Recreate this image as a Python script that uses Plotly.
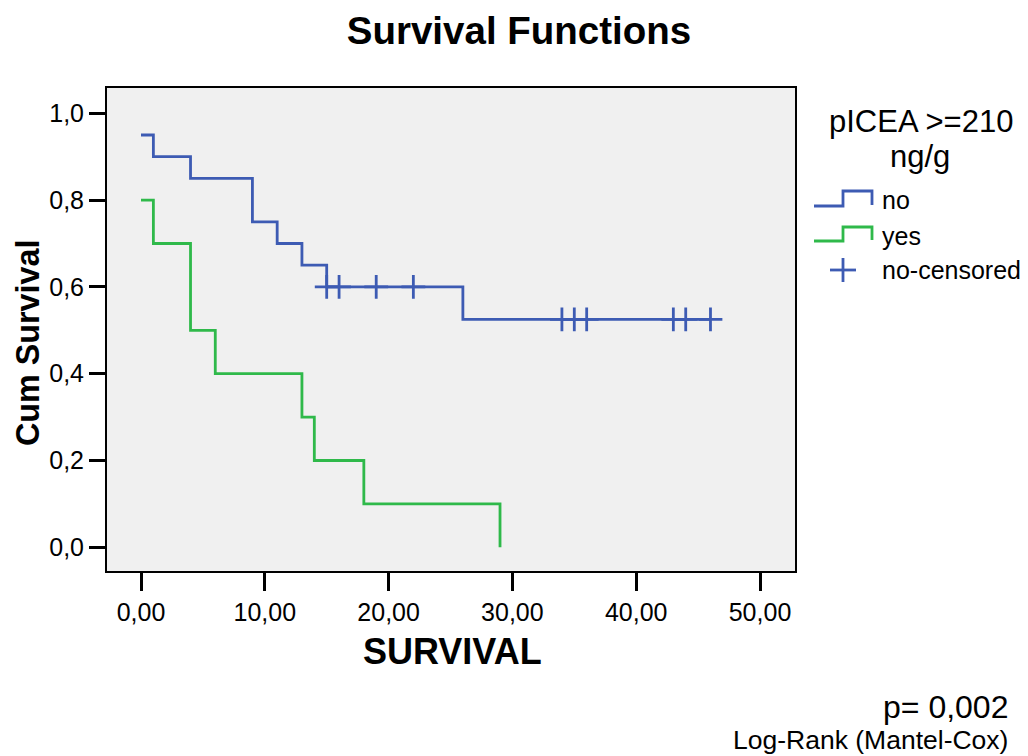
import plotly.graph_objects as go

# ---- data ----
no_times = [0, 1, 4, 9, 11, 13, 15, 26, 46]
no_surv = [0.95, 0.90, 0.85, 0.75, 0.70, 0.65, 0.60, 0.525, 0.525]
yes_times = [0, 1, 4, 6, 13, 14, 18, 29]
yes_surv = [0.80, 0.70, 0.50, 0.40, 0.30, 0.20, 0.10, 0.00]
no_censored_times = [15, 16, 19, 22, 34, 35, 36, 43, 44, 46]
group_labels = ["no", "yes", "no-censored"]
x_ticks = [0, 10, 20, 30, 40, 50]
y_ticks = [0.0, 0.2, 0.4, 0.6, 0.8, 1.0]


def surv_at(t, times, surv):
    s = surv[0]
    for ti, si in zip(times, surv):
        if ti <= t:
            s = si
    return s


no_censored_surv = [surv_at(t, no_times, no_surv) for t in no_censored_times]

BLUE = "#3D5BB3"
GREEN = "#2FB94A"
FONT = "Liberation Sans, Arial, sans-serif"

# page body has an 8px default margin: work in reference-pixel coords and offset
OFF = 8
W, H = 1028 - OFF, 756 - OFF
REF_L, REF_R, REF_T, REF_B = 107, 795, 88, 571
PL, PR, PT, PB = REF_L - OFF, REF_R - OFF, REF_T - OFF, REF_B - OFF


def xp(px):
    return (px - REF_L) / (REF_R - REF_L)


def yp(py):
    return (REF_B - py) / (REF_B - REF_T)


fig = go.Figure()
fig.add_trace(go.Scatter(x=no_times, y=no_surv, mode="lines", line_shape="hv",
                         line=dict(color=BLUE, width=2.8), name=group_labels[0]))
fig.add_trace(go.Scatter(x=yes_times, y=yes_surv, mode="lines", line_shape="hv",
                         line=dict(color=GREEN, width=2.8), name=group_labels[1]))
fig.add_trace(go.Scatter(x=no_censored_times, y=no_censored_surv, mode="markers",
                         marker=dict(symbol="cross-thin", size=17,
                                     line=dict(color=BLUE, width=2.8)),
                         name=group_labels[2]))

shapes = []
# legend glyphs (step shapes)
for col, base, top in [(BLUE, 206, 191), (GREEN, 241, 227)]:
    path = (f"M {xp(814)},{yp(base)} L {xp(843)},{yp(base)} L {xp(843)},{yp(top)} "
            f"L {xp(872)},{yp(top)} L {xp(872)},{yp(base - 1)}")
    shapes.append(dict(type="path", xref="paper", yref="paper", path=path,
                       line=dict(color=col, width=2.8)))
# censored plus glyph
shapes.append(dict(type="line", xref="paper", yref="paper", x0=xp(830), x1=xp(856),
                   y0=yp(270), y1=yp(270), line=dict(color=BLUE, width=2.8)))
shapes.append(dict(type="line", xref="paper", yref="paper", x0=xp(843), x1=xp(843),
                   y0=yp(258), y1=yp(282), line=dict(color=BLUE, width=2.8)))

annotations = [
    dict(text="<b>Cum Survival</b>", x=xp(28), y=yp(343), xref="paper", yref="paper",
         textangle=-90, showarrow=False, font=dict(size=32.3, color="black", family=FONT),
         xanchor="center", yanchor="middle"),
    dict(text="<b>SURVIVAL</b>", x=xp(452), y=yp(651), xref="paper", yref="paper",
         showarrow=False, font=dict(size=36, color="black", family=FONT),
         xanchor="center", yanchor="middle"),
    dict(text="pICEA >=210", x=xp(921), y=yp(121), xref="paper", yref="paper",
         showarrow=False, font=dict(size=31, color="black", family=FONT),
         xanchor="center", yanchor="middle"),
    dict(text="ng/g", x=xp(920), y=yp(156), xref="paper", yref="paper",
         showarrow=False, font=dict(size=31, color="black", family=FONT),
         xanchor="center", yanchor="middle"),
]
for lab, yy in zip(group_labels, [200, 236, 270]):
    annotations.append(dict(text=lab, x=xp(880), y=yp(yy), xref="paper", yref="paper",
                            showarrow=False, font=dict(size=25, color="black", family=FONT),
                            xanchor="left", yanchor="middle"))
annotations.append(dict(text="p= 0,002", x=xp(1010), y=yp(707), xref="paper", yref="paper",
                        showarrow=False, font=dict(size=32, color="black", family=FONT),
                        xanchor="right", yanchor="middle"))
annotations.append(dict(text="Log-Rank (Mantel-Cox)", x=xp(1010), y=yp(740), xref="paper",
                        yref="paper", showarrow=False,
                        font=dict(size=26.5, color="black", family=FONT),
                        xanchor="right", yanchor="middle"))

x0v = -34 / 12.38
x1v = (REF_R - 141) / 12.38
y_unit = 434.0
y_top = 1 + (113.3 - REF_T) / y_unit
y_bot = -(REF_B - 547.3) / y_unit

fig.update_layout(
    width=W, height=H,
    margin=dict(l=PL, r=W - PR, t=PT, b=H - PB, pad=0),
    paper_bgcolor="white",
    plot_bgcolor="#F0F0F0",
    separators=",.",
    showlegend=False,
    font=dict(family=FONT, color="black"),
    title=dict(text="<b>Survival Functions</b>", x=(519 - OFF) / W, xanchor="center",
               y=1 - (31 - OFF) / H, yanchor="middle", xref="container", yref="container",
               font=dict(size=38.5, color="black", family=FONT)),
    xaxis=dict(range=[x0v, x1v], tickvals=x_ticks, tickformat=".2f",
               showgrid=False, zeroline=False, showline=True, linecolor="black",
               linewidth=2, mirror=True, ticks="outside", ticklen=18, tickwidth=2.5,
               tickcolor="black", tickfont=dict(size=25, color="black", family=FONT)),
    yaxis=dict(range=[y_bot, y_top], tickvals=y_ticks, tickformat=".1f",
               showgrid=False, zeroline=False, showline=True, linecolor="black",
               linewidth=2, mirror=True, ticks="outside", ticklen=16, tickwidth=2.5,
               tickcolor="black", tickfont=dict(size=25, color="black", family=FONT)),
    shapes=shapes,
    annotations=annotations,
)

fig.write_html("out.html")
